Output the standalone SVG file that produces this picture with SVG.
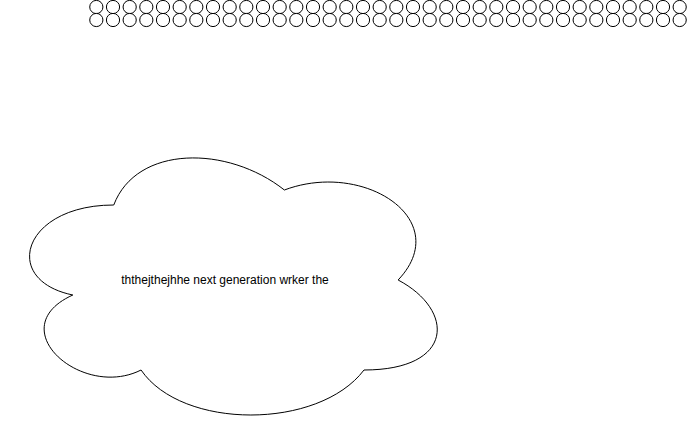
<svg xmlns="http://www.w3.org/2000/svg" xmlns:xlink="http://www.w3.org/1999/xlink" width="691" height="431" viewBox="0 0 691 431">
  <style>
    .ring { fill: #ffffff; stroke: #000000; stroke-width: 1; }
    .cloud { fill: #ffffff; stroke: #000000; stroke-width: 1; }
    .label { font-family: "Liberation Sans", Arial, sans-serif; font-size: 12px; fill: #000000; }
  </style>
  <defs>
    <g id="pair">
      <circle class="ring" cx="0" cy="7" r="6.6"/>
      <circle class="ring" cx="0" cy="20" r="6.6"/>
    </g>
  </defs>
  <rect x="0" y="0" width="691" height="431" fill="#ffffff"/>
  <g id="circle-strip">
    <use xlink:href="#pair" href="#pair" x="96.33"/>
    <use xlink:href="#pair" href="#pair" x="113"/>
    <use xlink:href="#pair" href="#pair" x="129.67"/>
    <use xlink:href="#pair" href="#pair" x="146.33"/>
    <use xlink:href="#pair" href="#pair" x="163"/>
    <use xlink:href="#pair" href="#pair" x="179.67"/>
    <use xlink:href="#pair" href="#pair" x="196.33"/>
    <use xlink:href="#pair" href="#pair" x="213"/>
    <use xlink:href="#pair" href="#pair" x="229.67"/>
    <use xlink:href="#pair" href="#pair" x="246.33"/>
    <use xlink:href="#pair" href="#pair" x="263"/>
    <use xlink:href="#pair" href="#pair" x="279.67"/>
    <use xlink:href="#pair" href="#pair" x="296.33"/>
    <use xlink:href="#pair" href="#pair" x="313"/>
    <use xlink:href="#pair" href="#pair" x="329.67"/>
    <use xlink:href="#pair" href="#pair" x="346.33"/>
    <use xlink:href="#pair" href="#pair" x="363"/>
    <use xlink:href="#pair" href="#pair" x="379.67"/>
    <use xlink:href="#pair" href="#pair" x="396.33"/>
    <use xlink:href="#pair" href="#pair" x="413"/>
    <use xlink:href="#pair" href="#pair" x="429.67"/>
    <use xlink:href="#pair" href="#pair" x="446.33"/>
    <use xlink:href="#pair" href="#pair" x="463"/>
    <use xlink:href="#pair" href="#pair" x="479.67"/>
    <use xlink:href="#pair" href="#pair" x="496.33"/>
    <use xlink:href="#pair" href="#pair" x="513"/>
    <use xlink:href="#pair" href="#pair" x="529.67"/>
    <use xlink:href="#pair" href="#pair" x="546.33"/>
    <use xlink:href="#pair" href="#pair" x="563"/>
    <use xlink:href="#pair" href="#pair" x="579.67"/>
    <use xlink:href="#pair" href="#pair" x="596.33"/>
    <use xlink:href="#pair" href="#pair" x="613"/>
    <use xlink:href="#pair" href="#pair" x="629.67"/>
    <use xlink:href="#pair" href="#pair" x="646.33"/>
    <use xlink:href="#pair" href="#pair" x="663"/>
    <use xlink:href="#pair" href="#pair" x="679.67"/>
  </g>
  <g id="cloud-node">
    <path class="cloud" d="M 113.75 205 C 22.75 205 0 280 72.8 295 C 0 328 81.9 400 141.05 370 C 182 430 318.5 430 364 370 C 455 370 455 310 398.125 280 C 455 220 364 160 284.375 190 C 227.5 145 136.5 145 113.75 205 Z"/>
    <text class="label" x="225" y="284" text-anchor="middle">ththejthejhhe next generation wrker the</text>
  </g>
  <g id="connectors"/>
</svg>
